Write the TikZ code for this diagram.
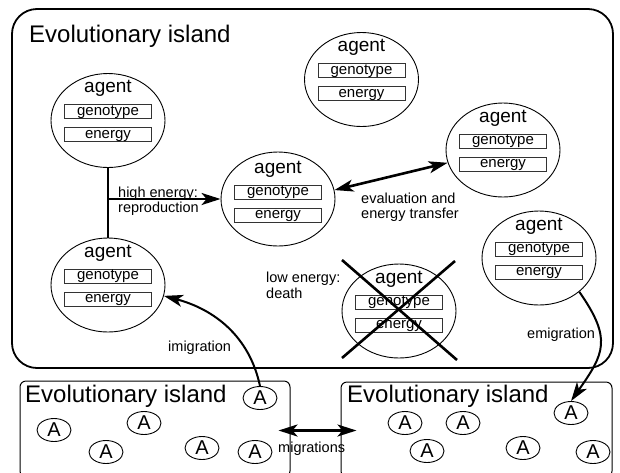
\documentclass[tikz,border=0pt]{standalone}
\usepackage{fontspec}
\setmainfont{Liberation Sans}
\usetikzlibrary{shapes.geometric,arrows.meta}
\tikzstyle{agentStyle}=[shape = ellipse, minimum width = 114pt, minimum height = 94pt, inner sep = 0pt, draw, line width = 0.9pt]
\tikzstyle{fieldStyle}=[shape = rectangle, minimum width = 87pt, minimum height = 14pt, inner sep = 0pt, text height = 10.5pt, text depth = 3pt, draw = black!80, line width = 1pt, font = \fontsize{15}{15}\selectfont]
\tikzstyle{smallAgent}=[shape = ellipse, minimum width = 34pt, minimum height = 23pt, inner sep = 0pt, draw, line width = 0.9pt, font = \fontsize{20}{20}\selectfont]
\tikzstyle{islandStyle}=[shape = rectangle, rounded corners = 6pt, draw, line width = 1pt, inner sep = 0pt]

\begin{document}
\begin{tikzpicture}[x = 1pt, y = -1pt]
\tikzstyle{nameStyle} = [font = \fontsize{19}{19}\selectfont, inner sep = 0pt]
\tikzstyle{titleStyle} = [font = \fontsize{24}{24}\selectfont, inner sep = 0pt, anchor = base west]
\tikzstyle{noteStyle} = [font = \fontsize{14.5}{15.5}\selectfont, inner sep = 0pt, align = left, anchor = west]
\tikzstyle{arrowStyle} = [line width = 2.4pt, -{Stealth[length = 19pt, width = 12pt, inset = 5pt]}]
\tikzstyle{twoWayStyle} = [line width = 2.6pt, {Stealth[length = 19pt, width = 12pt, inset = 5pt]}-{Stealth[length = 19pt, width = 12pt, inset = 5pt]}]
\clip (0,0) rectangle (620,472);
% islands
\node[islandStyle, rounded corners = 25pt, line width = 1.8pt, minimum width = 601pt, minimum height = 359pt] (mainIsland) at (312.5, 188.5) {};
\node[islandStyle, minimum width = 270pt, minimum height = 96pt] (islL) at (155, 429) {};
\node[islandStyle, minimum width = 271pt, minimum height = 95pt] (islR) at (476.5, 429.5) {};
\node[titleStyle] (mainTitle) at (29, 42) {Evolutionary island};
\node[titleStyle] (titleL) at (25, 402) {Evolutionary island};
\node[titleStyle] (titleR) at (347, 402) {Evolutionary island};
% agents of the main island
\node[agentStyle] (A1) at (108, 120.5) {};
\node[nameStyle] (A1-name) at (108, 88.5) {agent};
\node[fieldStyle] (A1-gen) at (108, 111.5) {genotype};
\node[fieldStyle] (A1-en) at (108, 134.5) {energy};
\node[agentStyle] (A2) at (278, 199) {};
\node[nameStyle] (A2-name) at (278, 169) {agent};
\node[fieldStyle] (A2-gen) at (278, 192) {genotype};
\node[fieldStyle] (A2-en) at (278, 215) {energy};
\node[agentStyle] (A3) at (361.5, 79.5) {};
\node[nameStyle] (A3-name) at (361.5, 47.5) {agent};
\node[fieldStyle] (A3-gen) at (361.5, 70.5) {genotype};
\node[fieldStyle] (A3-en) at (361.5, 93.5) {energy};
\node[agentStyle] (A4) at (503, 150) {};
\node[nameStyle] (A4-name) at (503, 118) {agent};
\node[fieldStyle] (A4-gen) at (503, 141) {genotype};
\node[fieldStyle] (A4-en) at (503, 164) {energy};
\node[agentStyle] (A5) at (539, 258) {};
\node[nameStyle] (A5-name) at (539, 226) {agent};
\node[fieldStyle] (A5-gen) at (539, 249) {genotype};
\node[fieldStyle] (A5-en) at (539, 272) {energy};
\node[agentStyle] (A6) at (108, 285) {};
\node[nameStyle] (A6-name) at (108, 253) {agent};
\node[fieldStyle] (A6-gen) at (108, 276) {genotype};
\node[fieldStyle] (A6-en) at (108, 299) {energy};
\node[agentStyle] (A7) at (399, 311) {};
\node[nameStyle] (A7-name) at (399, 279) {agent};
\node[fieldStyle] (A7-gen) at (399, 302) {genotype};
\node[fieldStyle] (A7-en) at (399, 325) {energy};
% agents of the other islands
\node[smallAgent] (LA1) at (260, 398) {A};
\node[smallAgent] (LA2) at (54, 430) {A};
\node[smallAgent] (LA3) at (144, 423) {A};
\node[smallAgent] (LA4) at (106, 452) {A};
\node[smallAgent] (LA5) at (202, 448) {A};
\node[smallAgent] (LA6) at (255, 452) {A};
\node[smallAgent] (RA1) at (405, 423) {A};
\node[smallAgent] (RA2) at (463, 423) {A};
\node[smallAgent] (RA3) at (571, 413) {A};
\node[smallAgent] (RA4) at (427, 451) {A};
\node[smallAgent] (RA5) at (523, 448) {A};
\node[smallAgent] (RA6) at (593, 452) {A};
% connectors
\draw[line width = 2.4pt] (A1.south) -- (A6.north);
\draw[arrowStyle] (A1.south |- A2.west) -- (A2.west);
\draw[twoWayStyle] (A2.9) -- (A4.193);
\draw[arrowStyle, line width = 2pt] (LA1.north) to[out = 102, in = -15] (A6.-11);
\draw[arrowStyle, line width = 2pt] (A5.-40) to[out = -55, in = 55, looseness = 1.35] (RA3.north);
\draw[twoWayStyle] ([shift = {(-12, 1.5)}]islL.east) -- ([shift = {(16, 1)}]islR.west);
\draw[line width = 2.6pt] ([shift = {(-57, -51)}]A7.center) -- ([shift = {(58, 49)}]A7.center);
\draw[line width = 2.6pt] ([shift = {(56, -50)}]A7.center) -- ([shift = {(-57, 47)}]A7.center);
% labels
\node[noteStyle] (noteRepro) at (118, 201) {high energy:\\reproduction};
\node[noteStyle] (noteEval) at (361, 207) {evaluation and\\energy transfer};
\node[noteStyle] (noteDeath) at (266, 285.5) {low energy:\\death};
\node[noteStyle] (noteImig) at (168, 348) {imigration};
\node[noteStyle] (noteEmig) at (527, 334.5) {emigration};
\node[noteStyle] (noteMig) at (278, 448.5) {migrations};
\end{tikzpicture}
\end{document}
